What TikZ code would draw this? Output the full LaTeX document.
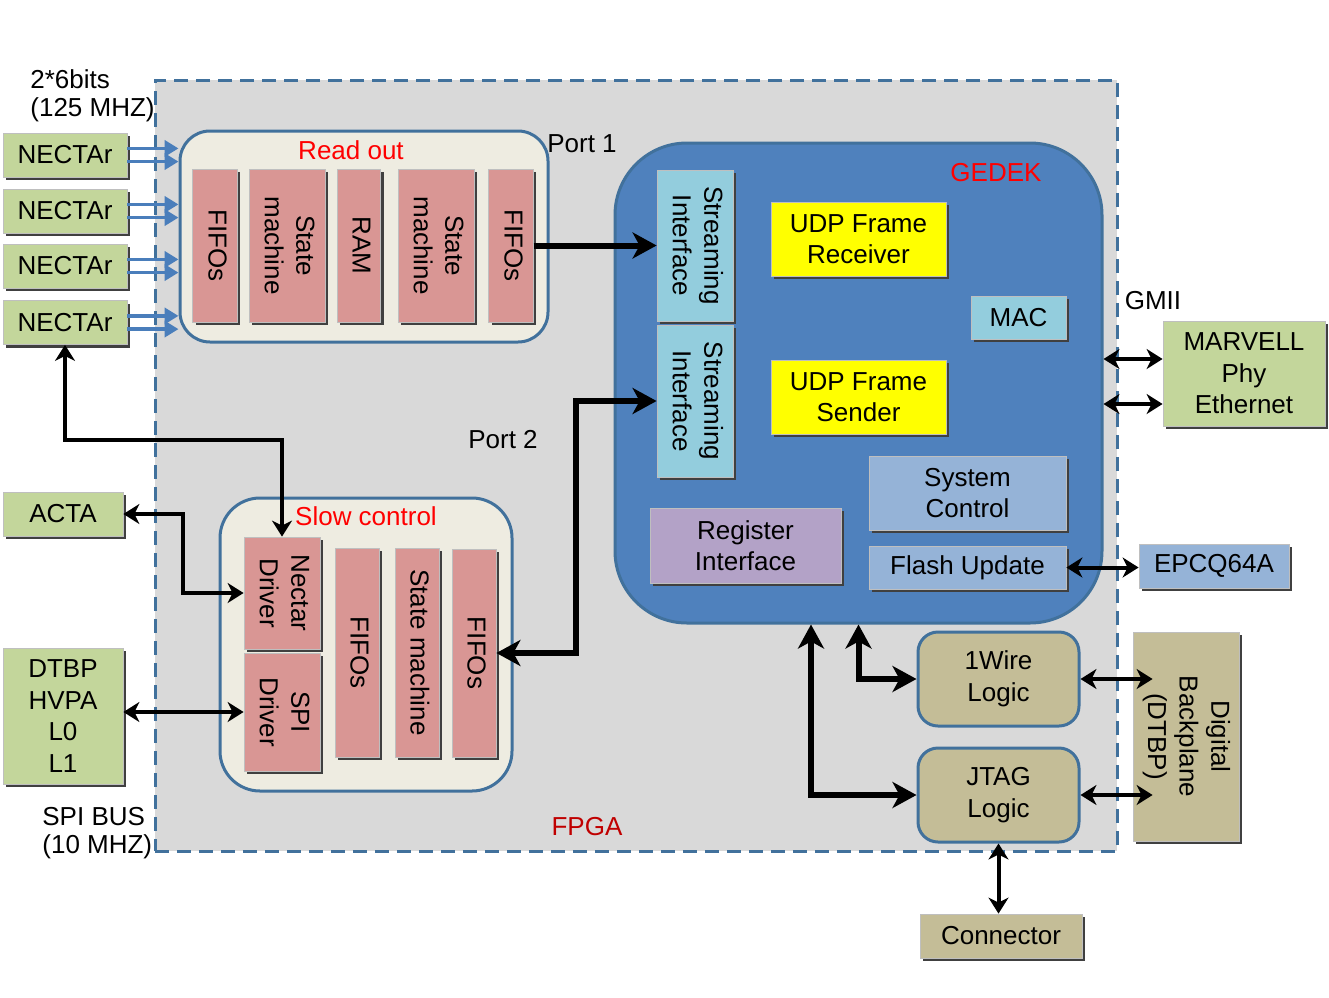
\documentclass[tikz,border=0pt]{standalone}
\usepackage{fontspec}
\setmainfont{Liberation Sans}
\usepackage{graphicx}
\usetikzlibrary{arrows.meta,shadows}
\definecolor{GRN}{HTML}{C3D69B}
\definecolor{ROSE}{HTML}{D99694}
\definecolor{CYAN}{HTML}{93CDDD}
\definecolor{YEL}{HTML}{FFFF00}
\definecolor{STEEL}{HTML}{95B3D7}
\definecolor{LILAC}{HTML}{B3A2C7}
\definecolor{TAN}{HTML}{C4BD97}
\definecolor{CREAM}{HTML}{EEECE1}
\definecolor{GBLUE}{HTML}{4F81BD}
\definecolor{EDGE}{HTML}{41719C}
\definecolor{FPGAG}{HTML}{D9D9D9}
\definecolor{ARROW}{HTML}{4A7EBB}
\definecolor{LRED}{HTML}{FF0000}
\definecolor{FRED}{HTML}{C00000}
\newcommand{\vtxt}[1]{\rotatebox{-90}{\begin{tabular}{@{}c@{}}#1\end{tabular}}}

\begin{document}
\begin{tikzpicture}[x=0.5pt,y=-0.5pt,font=\fontsize{13}{15.8}\selectfont]
\tikzset{shd/.style={drop shadow={shadow xshift=1.6pt,shadow yshift=-1.6pt,fill=black!75,opacity=1}},
 blk/.style={shd,draw=black!25,inner sep=0pt,align=center},
 gbox/.style={blk,fill=GRN},rbox/.style={blk,fill=ROSE},cbox/.style={blk,fill=CYAN},
 ybox/.style={blk,fill=YEL},sbox/.style={blk,fill=STEEL},pbox/.style={blk,fill=LILAC},
 tbox/.style={blk,fill=TAN},
 cont/.style={draw=EDGE,line width=1.5pt,inner sep=0pt,align=center},
 lab/.style={inner sep=0pt},rlab/.style={inner sep=0pt,text=LRED},
 barr/.style={line width=1.8pt,ARROW,-{Triangle[length=7pt,width=8pt]}},
 narr/.style={line width=2pt,>={Stealth[length=8pt,width=10pt,inset=2.5pt]}},
 warr/.style={line width=3pt,>={Stealth[length=12pt,width=13pt,inset=3.5pt]}}}
\useasboundingbox (0,0) rectangle (1329,997);
% FPGA area
\node[draw=EDGE,fill=FPGAG,line width=1.5pt,dash pattern=on 7pt off 4pt,minimum width=481pt,minimum height=385.5pt] (fpga) at (636,465.5) {};
% read out
\node[cont,fill=CREAM,rounded corners=15pt,minimum width=184pt,minimum height=105.5pt] (ro) at (364,236.5) {};
\node[rbox,minimum width=22.25pt,minimum height=76.5pt] (ro1) at (215,245.5) {\vtxt{FIFOs}};
\node[rbox,minimum width=38pt,minimum height=76.5pt] (ro2) at (287,245.5) {\vtxt{State\\machine}};
\node[rbox,minimum width=21.75pt,minimum height=76.5pt] (ro3) at (359,245.5) {\vtxt{RAM}};
\node[rbox,minimum width=38pt,minimum height=76.5pt] (ro4) at (436,245.5) {\vtxt{State\\machine}};
\node[rbox,minimum width=22.25pt,minimum height=76.5pt] (ro5) at (511,245.5) {\vtxt{FIFOs}};
% GEDEK
\node[cont,fill=GBLUE,rounded corners=36pt,minimum width=243.5pt,minimum height=240pt] (gedek) at (858.5,383) {};
\node[cbox,minimum width=38pt,minimum height=75.5pt] (si1) at (695,245.5) {\vtxt{Streaming\\Interface}};
\node[cbox,minimum width=38pt,minimum height=76pt] (si2) at (695,401) {\vtxt{Streaming\\Interface}};
\node[ybox,minimum width=87.5pt,minimum height=37pt] (udpr) at (858.5,239) {UDP Frame\\Receiver};
\node[ybox,minimum width=87.5pt,minimum height=37pt] (udps) at (858.5,397) {UDP Frame\\Sender};
\node[cbox,minimum width=47.5pt,minimum height=21.5pt] (mac) at (1018.5,317.5) {MAC};
\node[sbox,minimum width=98.5pt,minimum height=37pt] (sysc) at (967.5,493) {System\\Control};
\node[sbox,minimum width=98.5pt,minimum height=21.5pt] (fu) at (967.5,567.5) {Flash Update};
\node[pbox,minimum width=95.5pt,minimum height=37.5pt] (regi) at (745.5,545.5) {Register\\Interface};
% slow control
\node[cont,fill=CREAM,rounded corners=20pt,minimum width=146pt,minimum height=146.5pt] (sc) at (366,644.5) {};
\node[rbox,minimum width=38pt,minimum height=56pt] (nd) at (282,593) {\vtxt{Nectar\\Driver}};
\node[rbox,minimum width=38pt,minimum height=59pt] (sd) at (282,712) {\vtxt{SPI\\Driver}};
\node[rbox,minimum width=22pt,minimum height=104.5pt] (sc3) at (357,652.5) {\vtxt{FIFOs}};
\node[rbox,minimum width=22pt,minimum height=104.5pt] (sc4) at (417,652.5) {\vtxt{State machine}};
\node[rbox,minimum width=22pt,minimum height=104pt] (sc5) at (474,653) {\vtxt{FIFOs}};
% outside blocks
\node[gbox,minimum width=62pt,minimum height=22pt] (nec1) at (65,155) {NECTAr};
\node[gbox,minimum width=62pt,minimum height=22pt] (nec2) at (65,211) {NECTAr};
\node[gbox,minimum width=62pt,minimum height=22pt] (nec3) at (65,266) {NECTAr};
\node[gbox,minimum width=62pt,minimum height=22pt] (nec4) at (65,322.5) {NECTAr};
\node[gbox,minimum width=60pt,minimum height=22pt] (acta) at (63,514) {ACTA};
\node[gbox,minimum width=60pt,minimum height=68pt] (dtbp) at (63,716) {DTBP\\HVPA\\L0\\L1};
\node[gbox,minimum width=81pt,minimum height=52.5pt] (marvell) at (1244,373.5) {MARVELL\\Phy\\Ethernet};
\node[sbox,minimum width=75pt,minimum height=22pt] (epcq) at (1214,566) {EPCQ64A};
\node[cont,fill=TAN,rounded corners=10pt,minimum width=80.5pt,minimum height=47pt] (w1) at (998.5,679) {1Wire\\Logic};
\node[cont,fill=TAN,rounded corners=10pt,minimum width=80.5pt,minimum height=47pt] (jtag) at (998.5,795) {JTAG\\Logic};
\node[tbox,minimum width=53pt,minimum height=104.5pt] (bp) at (1186,736.5) {\vtxt{Digital\\Backplane\\(DTBP)}};
\node[tbox,minimum width=81pt,minimum height=22pt] (conn) at (1001,936) {Connector};
% labels
\node[lab,anchor=west] (lbits) at (30,79) {2*6bits};
\node[lab,anchor=west] (lclk) at (30,110) {(125 MHZ)};
\node[rlab] (lro) at (351,150) {Read out};
\node[lab] (lp1) at (582,144) {Port 1};
\node[rlab] (lged) at (996,173) {GEDEK};
\node[lab] (lgmii) at (1153,301) {GMII};
\node[lab] (lp2) at (503,440) {Port 2};
\node[rlab] (lsc) at (366,516) {Slow control};
\node[lab,anchor=west] (lspi) at (42,817) {SPI BUS};
\node[lab,anchor=west] (lspiclk) at (42,847) {(10 MHZ)};
\node[lab,text=FRED] (lfpga) at (587,827) {FPGA};
% connectors
\foreach \n in {nec1,nec2,nec3,nec4}{
 \draw[barr] ([yshift=3.3pt]\n.east) -- ([yshift=3.3pt]\n.east -| ro.west);
 \draw[barr] ([yshift=-3.3pt]\n.east) -- ([yshift=-3.3pt]\n.east -| ro.west);}
\draw[warr,->] (ro5.east) -- (si1.west);
\draw[warr,<->] (sc5.east) -- ++(80,0) |- (si2.west);
\draw[narr,<->] (acta.east) -- ++(60,0) |- (nd.west);
\coordinate (nbend) at (282,440);
\draw[narr,<->] (nec4.south) |- (nbend) -- (nd.north);
\draw[narr,<->] (dtbp.east |- sd.west) -- (sd.west);
\draw[narr,<->] ([yshift=7.25pt]marvell.west) -- ([yshift=7.25pt]marvell.west -| gedek.east);
\draw[narr,<->] ([yshift=-15.25pt]marvell.west) -- ([yshift=-15.25pt]marvell.west -| gedek.east);
\draw[narr,<->] (fu.east) -- (fu.east -| epcq.west);
\draw[warr,<->] (gedek.south) |- (w1.west);
\draw[warr,<->] ([xshift=-23.75pt]gedek.south) |- (jtag.west);
\draw[narr,<->,shorten >=-10pt] (w1.east) -- (w1.east -| bp.west);
\draw[narr,<->,shorten >=-10pt] (jtag.east) -- (jtag.east -| bp.west);
\draw[narr,<->] (jtag.south) -- (jtag.south |- conn.north);
\end{tikzpicture}
\end{document}
